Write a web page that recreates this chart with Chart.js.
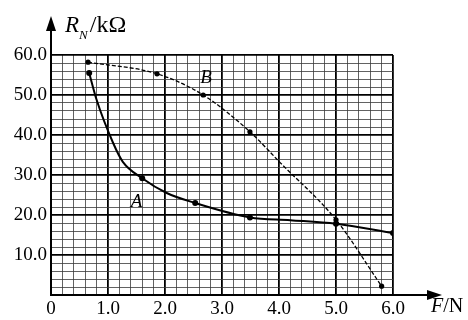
<!DOCTYPE html>
<html>
<head>
<meta charset="utf-8">
<script src="https://cdn.jsdelivr.net/npm/chart.js@4.4.1/dist/chart.umd.min.js"></script>
<style>
  html, body { margin: 0; padding: 0; background: #fff; }
  #wrap { width: 468px; height: 320px; position: relative; }
</style>
</head>
<body>
<div id="wrap"><canvas id="myChart"></canvas></div>
<script>
'use strict';

// curve A : solid line (dots where marked)
let forceA = [0.67, 0.8, 1.09, 1.26, 1.6, 2.03, 2.53, 3.49, 4.2, 5.0, 6.0];
let resistA = [55.5, 48.8, 38.0, 33.3, 29.2, 25.5, 23.0, 19.4, 18.7, 17.8, 15.5];
let dotsA = [1, 0, 0, 0, 1, 0, 1, 1, 0, 1, 1];

// curve B : thin dashed line
let forceB = [0.65, 1.86, 2.67, 3.49, 4.02, 5.0, 5.8];
let resistB = [58.2, 55.3, 50.0, 40.8, 33.1, 18.8, 2.2];
let dotsB = [1, 1, 1, 1, 0, 1, 1];

let xMajor = [0, 1, 2, 3, 4, 5, 6];
let yMajor = [10, 20, 30, 40, 50, 60];

function toPoints( xs, ys ) {
  let pts = [];
  for ( let i = 0; i < xs.length; i++ ) {
    pts.push( { x: xs[i], y: ys[i] } );
  }
  return pts;
}

function isMajor( v, list ) {
  for ( let i = 0; i < list.length; i++ ) {
    if ( Math.abs( v - list[i] ) < 1e-6 ) return true;
  }
  return false;
}

const serif = '"Liberation Serif", "DejaVu Serif", serif';

const extras = {
  id: 'extras',
  afterDraw( chart ) {
    const ctx = chart.ctx;
    const area = chart.chartArea;
    const xs = chart.scales.x;
    const ys = chart.scales.y;
    ctx.save();
    ctx.strokeStyle = '#000';
    ctx.fillStyle = '#000';
    ctx.lineWidth = 2;

    // y axis arrow
    ctx.beginPath();
    ctx.moveTo( area.left, area.top );
    ctx.lineTo( area.left, 26 );
    ctx.stroke();
    ctx.beginPath();
    ctx.moveTo( area.left, 16 );
    ctx.lineTo( area.left - 5, 31 );
    ctx.lineTo( area.left + 5, 31 );
    ctx.closePath();
    ctx.fill();

    // x axis arrow
    ctx.beginPath();
    ctx.moveTo( area.right, area.bottom );
    ctx.lineTo( 432, area.bottom );
    ctx.stroke();
    ctx.beginPath();
    ctx.moveTo( 442, area.bottom );
    ctx.lineTo( 427, area.bottom - 5 );
    ctx.lineTo( 427, area.bottom + 5 );
    ctx.closePath();
    ctx.fill();

    // axis titles
    ctx.textBaseline = 'alphabetic';
    ctx.textAlign = 'left';
    ctx.font = 'italic 23px ' + serif;
    ctx.fillText( 'R', 65, 32 );
    let w = ctx.measureText( 'R' ).width;
    ctx.font = 'italic 13px ' + serif;
    ctx.fillText( 'N', 65 + w, 39 );
    let w2 = ctx.measureText( 'N' ).width;
    ctx.font = '24px ' + serif;
    ctx.fillText( '/kΩ', 65 + w + w2 + 2, 32 );

    ctx.font = 'italic 20px ' + serif;
    ctx.fillText( 'F', 431, 312 );
    let wf = ctx.measureText( 'F' ).width;
    ctx.font = '20px ' + serif;
    ctx.fillText( '/N', 431 + wf, 312 );

    // curve names
    ctx.font = 'italic 19px ' + serif;
    ctx.textAlign = 'center';
    ctx.textBaseline = 'middle';
    ctx.fillText( 'B', xs.getPixelForValue( 2.72 ), ys.getPixelForValue( 54.2 ) );
    ctx.fillText( 'A', xs.getPixelForValue( 1.5 ), ys.getPixelForValue( 23.2 ) );
    ctx.restore();
  }
};

let ctx = document.getElementById( 'myChart' ).getContext( '2d' );
let myChart = new Chart( ctx, {
  type: 'line',
  data: {
    datasets: [{
      label: 'A',
      data: toPoints( forceA, resistA ),
      borderColor: '#000',
      backgroundColor: '#000',
      borderWidth: 2,
      pointRadius: dotsA.map( d => d ? 3 : 0 ),
      pointBorderWidth: 0,
      cubicInterpolationMode: 'monotone'
    }, {
      label: 'B',
      data: toPoints( forceB, resistB ),
      borderColor: '#000',
      backgroundColor: '#000',
      borderWidth: 1.3,
      borderDash: [4, 2],
      pointRadius: dotsB.map( d => d ? 2.6 : 0 ),
      pointBorderWidth: 0,
      cubicInterpolationMode: 'monotone'
    }]
  },
  options: {
    responsive: true,
    maintainAspectRatio: false,
    animation: false,
    layout: { padding: { left: 0, top: 55, right: 75, bottom: 0 } },
    plugins: {
      legend: { display: false },
      tooltip: { enabled: false }
    },
    scales: {
      x: {
        type: 'linear',
        min: 0,
        max: 6,
        afterFit( s ) { s.height = 25; },
        ticks: {
          stepSize: 0.2,
          autoSkip: false,
          maxRotation: 0,
          padding: 3,
          color: '#000',
          font: { family: serif, size: 19 },
          callback( v ) {
            if ( !isMajor( v, xMajor ) ) return '';
            return Math.round( v ) === 0 ? '0' : Math.round( v ).toFixed( 1 );
          }
        },
        grid: {
          drawTicks: false,
          color: c => isMajor( c.tick.value, xMajor ) ? '#000' : '#3a3a3a',
          lineWidth: c => isMajor( c.tick.value, xMajor ) ? 1.8 : 0.8
        },
        border: { color: '#000', width: 2 }
      },
      y: {
        min: 0,
        max: 60,
        afterFit( s ) { s.width = 51; },
        ticks: {
          stepSize: 2,
          autoSkip: false,
          padding: 4,
          color: '#000',
          font: { family: serif, size: 19 },
          callback( v ) {
            if ( v === 0 || !isMajor( v, yMajor ) ) return '';
            return v.toFixed( 1 );
          }
        },
        grid: {
          drawTicks: false,
          color: c => isMajor( c.tick.value, yMajor ) ? '#000' : '#3a3a3a',
          lineWidth: c => isMajor( c.tick.value, yMajor ) ? 1.8 : 0.8
        },
        border: { color: '#000', width: 2 }
      }
    }
  },
  plugins: [extras]
} );
</script>
</body>
</html>
